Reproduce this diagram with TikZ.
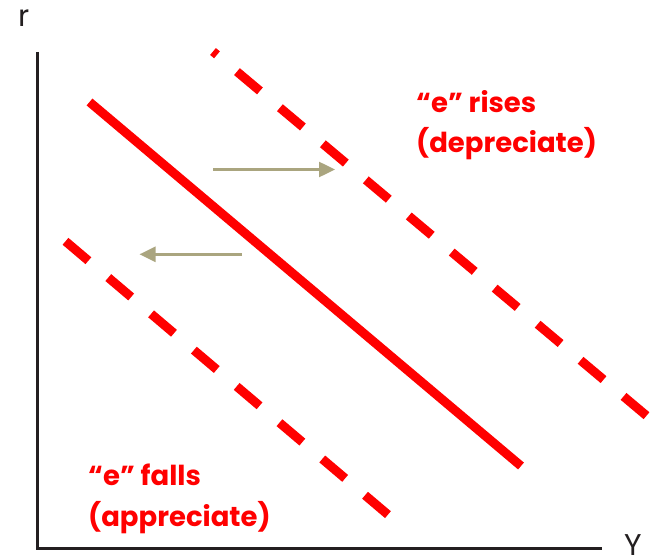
\documentclass[tikz,border=0pt]{standalone}
\usepackage{fontspec}
\setmainfont{Poppins}
\usetikzlibrary{arrows.meta}
\definecolor{curvered}{RGB}{255,0,0}
\definecolor{arrowolive}{RGB}{170,165,127}
\definecolor{axisdark}{RGB}{35,31,32}
\tikzset{
  axisline/.style={draw=axisdark, line width=3pt},
  curve/.style={draw=curvered, line width=9pt, line cap=butt},
  dashedcurve/.style={curve, dash pattern=on 30pt off 26.1pt},
  shiftarrow/.style={draw=arrowolive, line width=2.5pt, -{Triangle[length=16pt,width=15pt]}},
  redlabel/.style={text=curvered, font=\fontsize{27.5}{32}\selectfont\bfseries, anchor=base west, inner sep=0pt},
  axislabel/.style={text=axisdark, font=\fontsize{30}{34}\selectfont, anchor=base west, inner sep=0pt}
}
\begin{document}
\begin{tikzpicture}[x=1pt, y=-1pt]
  \useasboundingbox (0,0) rectangle (652,559);
  % axes
  \coordinate (top) at (37,52);
  \coordinate (origin) at (37,548);
  \coordinate (right) at (602,548);
  \draw[axisline] (top) -- (origin) -- (right);
  \node[axislabel] (rlab) at (18,27) {r};
  \node[axislabel] (ylab) at (624,555) {Y};
  % curves
  \coordinate (s1) at (89.5,102);
  \coordinate (s2) at (521,466);
  \draw[curve] (s1) -- (s2);
  \coordinate (u1) at (646.5,415.7);
  \coordinate (u2) at (213,51.5);
  \draw[dashedcurve] (u1) -- (u2);
  \coordinate (l1) at (65.5,241.3);
  \coordinate (l2) at (388,514.7);
  \draw[dashedcurve] (l1) -- (l2);
  % arrows
  \coordinate (ra1) at (213,169.5);
  \coordinate (ra2) at (335,169.5);
  \draw[shiftarrow] (ra1) -- (ra2);
  \coordinate (la1) at (242,254.3);
  \coordinate (la2) at (139.5,254.3);
  \draw[shiftarrow] (la1) -- (la2);
  % labels
  \node[redlabel] (rises) at (416,112) {“e” rises};
  \node[redlabel] (dep) at (416,152.5) {(depreciate)};
  \node[redlabel] (falls) at (88,485) {“e” falls};
  \node[redlabel] (app) at (88,526) {(appreciate)};
\end{tikzpicture}
\end{document}
